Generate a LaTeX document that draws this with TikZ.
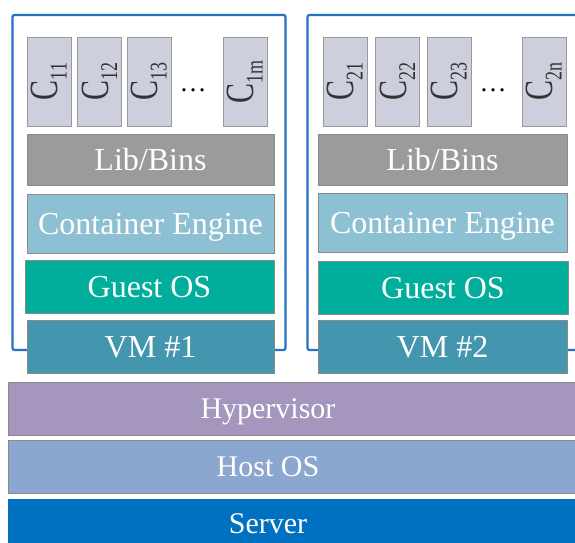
\documentclass[tikz,border=0pt]{standalone}
\usepackage{fontspec}
\setmainfont{Liberation Serif}
\definecolor{ctrfill}{HTML}{CDD0DC}
\definecolor{ctredge}{HTML}{9A9A9A}
\definecolor{libfill}{HTML}{9B9B9B}
\definecolor{engfill}{HTML}{8DC0D3}
\definecolor{guestfill}{HTML}{00AE9B}
\definecolor{vmfill}{HTML}{4495AE}
\definecolor{hypfill}{HTML}{A496BC}
\definecolor{hostfill}{HTML}{8BA7CF}
\definecolor{srvfill}{HTML}{0070C0}
\definecolor{frameblue}{HTML}{2372C4}
\definecolor{edgegray}{HTML}{8A8A8A}
\newcommand{\ctrlabel}[1]{\scalebox{0.75}[1]{\fontsize{40}{40}\selectfont C\raisebox{-0.22em}{\fontsize{24}{24}\selectfont #1}}}
\begin{document}
\begin{tikzpicture}[x=1pt,y=-1pt,
  layer/.style={draw=edgegray, line width=0.8pt, inner sep=0pt, outer sep=0pt,
    text=white, font=\fontsize{32}{32}\selectfont, text height=21pt, text depth=0pt},
  baselayer/.style={layer, font=\fontsize{30}{30}\selectfont},
  baselabel/.style={text=white, font=\fontsize{30}{30}\selectfont,
    inner sep=0pt, text height=20pt, text depth=0pt},
  ctr/.style={draw=ctredge, fill=ctrfill, line width=0.8pt, inner sep=0pt,
    minimum width=44pt, minimum height=89pt, text=black!80},
  vmframe/.style={draw=frameblue, line width=2.2pt, rounded corners=2pt},
  dotsnode/.style={inner sep=0pt, font=\fontsize{27}{27}\selectfont}]
\clip (0,0) rectangle (575,542);
\fill[white] (0,0) rectangle (575,542);

% virtual machine frames
\draw[vmframe] (12.5,15) rectangle (285.5,350);
\draw[vmframe] (590,350) -- (307.5,350) -- (307.5,15) -- (590,15);

% containers of VM 1
\node[ctr] (c11) at (49,81.5) {\rotatebox{90}{\ctrlabel{11}}};
\node[ctr] (c12) at (99.5,81.5) {\rotatebox{90}{\ctrlabel{12}}};
\node[ctr] (c13) at (149,81.5) {\rotatebox{90}{\ctrlabel{13}}};
\node[dotsnode] (d1) at (193,90) {\ldots};
\node[ctr] (c1m) at (245,81.5) {\rotatebox{90}{\ctrlabel{1m}}};

% containers of VM 2
\node[ctr] (c21) at (345,81.5) {\rotatebox{90}{\ctrlabel{21}}};
\node[ctr] (c22) at (397.5,81.5) {\rotatebox{90}{\ctrlabel{22}}};
\node[ctr] (c23) at (449,81.5) {\rotatebox{90}{\ctrlabel{23}}};
\node[dotsnode] (d2) at (493,90) {\ldots};
\node[ctr] (c2n) at (544,81.5) {\rotatebox{90}{\ctrlabel{2n}}};

% stack of VM 1
\node[layer, fill=libfill, minimum width=247pt, minimum height=51pt] (lib1) at (150.5,159.5) {Lib/Bins};
\node[layer, fill=engfill, minimum width=247pt, minimum height=59pt] (eng1) at (150.5,223.5) {Container Engine};
\node[layer, fill=guestfill, minimum width=249pt, minimum height=53pt] (os1) at (149.5,286.5) {Guest OS};
\node[layer, fill=vmfill, minimum width=247pt, minimum height=53pt] (vm1) at (150.5,346.5) {VM \#1};

% stack of VM 2
\node[layer, fill=libfill, minimum width=249pt, minimum height=51pt] (lib2) at (442.5,159.5) {Lib/Bins};
\node[layer, fill=engfill, minimum width=249pt, minimum height=59pt] (eng2) at (442.5,222.5) {Container Engine};
\node[layer, fill=guestfill, minimum width=250pt, minimum height=53pt] (os2) at (443,287.5) {Guest OS};
\node[layer, fill=vmfill, minimum width=249pt, minimum height=53pt] (vm2) at (442.5,346.5) {VM \#2};

% shared lower layers
\node[baselayer, fill=hypfill, minimum width=590pt, minimum height=53pt, anchor=west] (hyp) at (8,408.5) {};
\node[baselayer, fill=hostfill, minimum width=590pt, minimum height=53pt, anchor=west] (host) at (8,466.5) {};
\node[baselayer, fill=srvfill, draw=none, minimum width=590pt, minimum height=60pt, anchor=west] (srv) at (8,529) {};
\node[baselabel] (hyplabel) at (268,408.5) {Hypervisor};
\node[baselabel] (hostlabel) at (268,466.5) {Host OS};
\node[baselabel] (srvlabel) at (268,523.5) {Server};
\end{tikzpicture}
\end{document}
